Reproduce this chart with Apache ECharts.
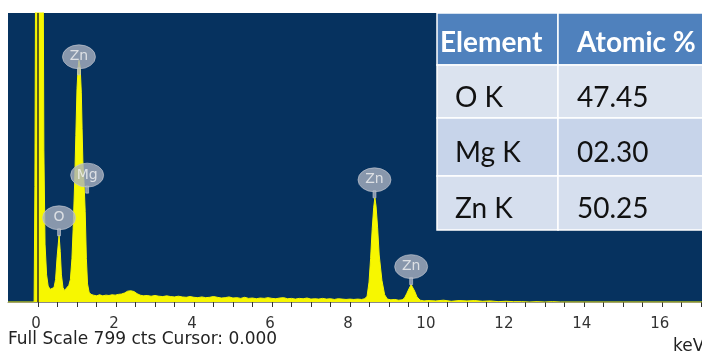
<!DOCTYPE html>
<html>
<head>
<meta charset="utf-8">
<script src="https://cdn.jsdelivr.net/npm/echarts@6/dist/echarts.min.js"></script>
<style>
  html, body { margin: 0; padding: 0; background: #ffffff; }
  #chart { width: 702px; height: 354px; }
</style>
</head>
<body>
<div id="chart"></div>
<script>
// EDS spectrum: energy (keV) vs counts
const energyKeV = [
  -0.77, -0.10, -0.08, -0.06, 0.13, 0.15, 0.18, 0.22, 0.26, 0.31, 0.36, 0.41, 0.45, 0.49, 0.54, 0.57, 0.60, 0.64, 0.68,
  0.73, 0.79, 0.83, 0.87, 0.90, 0.94, 0.97, 1.00, 1.03, 1.05, 1.08, 1.11, 1.13, 1.15, 1.18, 1.21, 1.24, 1.27, 1.31,
  1.36, 1.42, 1.50, 1.58, 1.66, 1.74, 1.82, 1.90, 1.98, 2.06, 2.14, 2.22, 2.30, 2.38, 2.46, 2.54, 2.62, 2.70, 2.80, 2.90,
  3.00, 3.10, 3.20, 3.30, 3.40, 3.50, 3.60, 3.70, 3.80, 3.90, 4.00, 4.10, 4.20, 4.30, 4.40, 4.50, 4.60, 4.70, 4.80,
  4.90, 5.00, 5.10, 5.20, 5.30, 5.40, 5.50, 5.60, 5.70, 5.80, 5.90, 6.00, 6.10, 6.20, 6.30, 6.40, 6.50, 6.60, 6.70,
  6.80, 6.90, 7.00, 7.10, 7.20, 7.30, 7.40, 7.50, 7.60, 7.70, 7.80, 7.90, 8.00, 8.10, 8.20, 8.30, 8.38, 8.44, 8.49,
  8.53, 8.57, 8.61, 8.64, 8.67, 8.71, 8.75, 8.82, 8.89, 8.96, 9.05, 9.15, 9.25, 9.34, 9.40, 9.46, 9.52, 9.57, 9.61,
  9.66, 9.72, 9.80, 9.90, 10.0, 10.2, 10.4, 10.6, 10.8, 11.0, 11.2, 11.4, 11.6, 11.8, 12.0, 12.2, 12.4, 12.6, 12.8,
  13.0, 13.2, 13.4, 14.0, 15.0, 17.03
];
const counts = [
  0, 0, 320, 1000, 1000, 420, 160, 75, 44, 35, 33, 40, 62, 125, 185, 140, 75, 40, 32,
  35, 46, 62, 120, 200, 330, 460, 590, 650, 668, 650, 580, 480, 390, 330, 250, 120, 50, 27,
  21, 19, 17, 20, 17, 19, 18, 20, 19, 21, 22, 25, 30, 31, 29, 23, 19, 17, 18, 16,
  18, 16, 15, 17, 15, 14, 16, 14, 13, 15, 13, 12, 14, 12, 13, 15, 13, 11, 12,
  14, 11, 12, 10, 13, 10, 11, 9, 11, 10, 12, 10, 9, 11, 12, 9, 10, 8, 10,
  9, 11, 8, 9, 8, 10, 8, 9, 7, 9, 8, 7, 8, 7, 8, 7, 9, 16, 55,
  120, 200, 262, 288, 265, 205, 130, 60, 20, 8, 6, 7, 5, 6, 11, 24, 38, 48, 44,
  30, 14, 5, 3, 4, 3, 5, 2, 4, 3, 4, 2, 3, 1, 2, 1, 1, 0, 1,
  0, 1, 0, 0, 0, 0
];

// Peak identification markers
const peakNames = ['Zn', 'Mg', 'O', 'Zn', 'Zn'];
const peakKeV = [1.05, 1.26, 0.54, 8.63, 9.57];
const peakCounts = [628, 301, 183, 288, 48];

// Axis ticks and labels
const tickValues = [];
for (let v = 0; v <= 17; v += 0.5) tickValues.push(v);
const labelValues = [0, 2, 4, 6, 8, 10, 12, 14, 16];

const fullScaleCts = 799;
const cursorKeV = 0;

// Quantification table
const tableHeaders = ['Element', 'Atomic %'];
const tableElements = ['O K', 'Mg K', 'Zn K'];
const atomicPercent = ['47.45', '02.30', '50.25'];

const chart = echarts.init(document.getElementById('chart'), null, { renderer: 'canvas' });

const spectrum = energyKeV.map((e, i) => [e, counts[i]]);
const peakData = peakNames.map((n, i) => ({ name: n, value: [peakKeV[i], peakCounts[i]] }));

// Table drawn as graphic cells
const tableX = [437, 558, 712];
const tableY = [13, 65, 118, 176, 230];
const rowFill = ['#4f81bd', '#dbe3ef', '#c7d4ea', '#d6dfee'];
const tableGraphics = [];
const rows = [tableHeaders].concat(tableElements.map((el, i) => [el, atomicPercent[i]]));
const textX = [[440, 577], [455, 577]];
rows.forEach((row, r) => {
  for (let c = 0; c < 2; c++) {
    tableGraphics.push({
      type: 'rect',
      shape: { x: tableX[c], y: tableY[r], width: tableX[c + 1] - tableX[c], height: tableY[r + 1] - tableY[r] },
      style: { fill: rowFill[r], stroke: '#ffffff', lineWidth: 1.5 },
      z: 10
    });
    tableGraphics.push({
      type: 'text',
      x: textX[r === 0 ? 0 : 1][c],
      y: (tableY[r] + tableY[r + 1]) / 2 + (r === 0 ? 4 : 6),
      style: {
        text: row[c],
        fill: r === 0 ? '#ffffff' : '#111111',
        font: (r === 0 ? 'bold ' : '') + '28px Lato',
        verticalAlign: 'middle',
        align: 'left'
      },
      z: 11
    });
  }
});

const option = {
  animation: false,
  backgroundColor: '#ffffff',
  grid: {
    left: 8, right: 0, top: 13, bottom: 52,
    show: true, backgroundColor: '#06325f', borderWidth: 0
  },
  xAxis: {
    type: 'value',
    min: -0.77,
    max: 17.03,
    splitLine: { show: false },
    axisLine: { show: true, onZero: false, lineStyle: { color: '#8a8a8a', width: 1 } },
    axisTick: { show: true, customValues: tickValues, length: 5, lineStyle: { color: '#333333', width: 1 } },
    axisLabel: {
      customValues: labelValues,
      fontFamily: 'DejaVu Sans',
      fontSize: 15,
      color: '#333333',
      margin: 15,
      padding: [0, 4, 0, 0]
    }
  },
  yAxis: {
    type: 'value',
    min: 0,
    max: fullScaleCts,
    show: false,
    splitLine: { show: false }
  },
  series: [
    {
      name: 'spectrum',
      type: 'line',
      data: spectrum,
      showSymbol: false,
      clip: true,
      lineStyle: { color: '#f7f700', width: 1 },
      areaStyle: { color: '#f7f700', opacity: 1 },
      z: 2,
      markLine: {
        silent: true,
        symbol: ['none', 'none'],
        label: { show: false },
        lineStyle: { color: '#2e2e1e', width: 1.5, type: 'solid' },
        data: [{ xAxis: cursorKeV }]
      }
    },
    {
      name: 'peaks',
      type: 'scatter',
      data: peakData,
      symbol: 'path://M0,12 A17,12 0 1 1 34,12 A17,12 0 1 1 0,12 Z M15.5,23 L18.5,23 L18.5,30 L15.5,30 Z',
      symbolSize: [33, 30],
      symbolOffset: [0, '-50%'],
      itemStyle: { color: '#a9b0bf', borderColor: '#c3c8d2', borderWidth: 0.8 },
      label: {
        show: true,
        position: 'inside',
        offset: [0, -3],
        formatter: p => p.name,
        fontFamily: 'DejaVu Sans',
        fontSize: 14,
        color: '#f2f2f2'
      },
      z: 5
    }
  ],
  graphic: tableGraphics.concat([
    {
      type: 'text',
      left: 8,
      top: 331,
      style: {
        text: 'Full Scale ' + fullScaleCts + ' cts Cursor: ' + cursorKeV.toFixed(3),
        font: '17px "DejaVu Sans"',
        fill: '#222222'
      }
    },
    {
      type: 'text',
      x: 673,
      y: 338,
      style: { text: 'keV', font: '17px "DejaVu Sans"', fill: '#222222' }
    }
  ])
};

chart.setOption(option);
</script>
</body>
</html>
